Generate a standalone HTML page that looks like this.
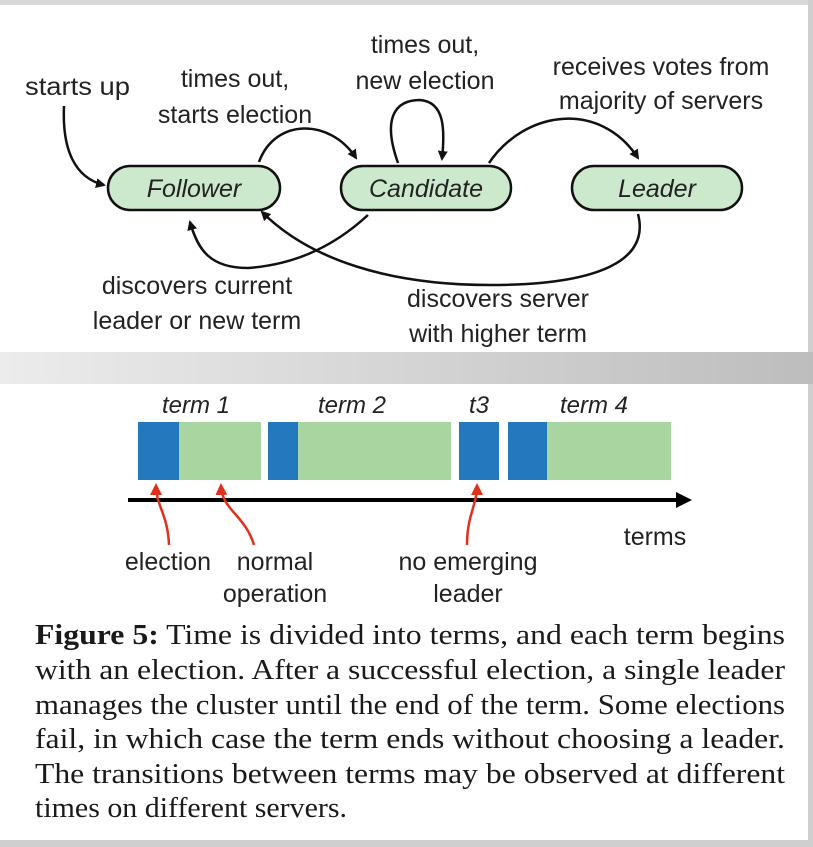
<!DOCTYPE html>
<html><head><meta charset="utf-8"><style>
html,body{margin:0;padding:0;background:#fff;}
svg{display:block;}
</style></head><body>
<svg width="813" height="847" viewBox="0 0 813 847" xmlns="http://www.w3.org/2000/svg">
<defs>
<linearGradient id="band" x1="0" x2="1" y1="0" y2="0">
<stop offset="0" stop-color="#ececec"/><stop offset="1" stop-color="#bdbdbd"/>
</linearGradient>
<marker id="ah" markerWidth="10" markerHeight="10" refX="8" refY="5" orient="auto" markerUnits="userSpaceOnUse">
<path d="M0,0 L10,5 L0,10 z" fill="#111"/></marker>
<marker id="rh" markerWidth="12" markerHeight="12" refX="9" refY="6" orient="auto" markerUnits="userSpaceOnUse">
<path d="M0,0 L12,6 L0,12 z" fill="#e0301e"/></marker>
<marker id="bh" markerWidth="16" markerHeight="16" refX="12" refY="8" orient="auto" markerUnits="userSpaceOnUse">
<path d="M0,0 L16,8 L0,16 z" fill="#000"/></marker>
</defs>
<rect x="0" y="0" width="813" height="847" fill="#fff"/>
<rect x="0" y="0" width="813" height="5" fill="#d8d8d8"/>
<rect x="808" y="0" width="5" height="847" fill="#cfcfcf"/>
<rect x="0" y="352" width="813" height="32" fill="url(#band)"/>
<rect x="0" y="840" width="813" height="7" fill="#cfcfcf"/>

<g font-family="Liberation Sans, sans-serif" font-size="25" fill="#222">
<text x="25" y="95" textLength="105" lengthAdjust="spacingAndGlyphs">starts up</text>
<text x="235" y="87" text-anchor="middle">times out,</text>
<text x="235" y="123" text-anchor="middle">starts election</text>
<text x="425" y="53" text-anchor="middle">times out,</text>
<text x="425" y="89" text-anchor="middle">new election</text>
<text x="661" y="75" text-anchor="middle">receives votes from</text>
<text x="661" y="109" text-anchor="middle">majority of servers</text>
<text x="197" y="294" text-anchor="middle">discovers current</text>
<text x="197" y="329" text-anchor="middle">leader or new term</text>
<text x="498" y="307" text-anchor="middle">discovers server</text>
<text x="498" y="342" text-anchor="middle">with higher term</text>
</g>

<g fill="#cde9cd" stroke="#111" stroke-width="2.5">
<rect x="108" y="166" width="172" height="44" rx="22"/>
<rect x="341" y="166" width="170" height="44" rx="22"/>
<rect x="572" y="166" width="170" height="44" rx="22"/>
</g>
<g font-family="Liberation Sans, sans-serif" font-size="25" font-style="italic" fill="#222" text-anchor="middle">
<text x="194" y="197">Follower</text>
<text x="426" y="197">Candidate</text>
<text x="657" y="197">Leader</text>
</g>

<g fill="none" stroke="#111" stroke-width="2.5" marker-end="url(#ah)">
<path d="M64,106 C62,150 75,178 104,185"/>
<path d="M259,162 C275,118 330,118 356,158"/>
<path d="M398,163 C382,118 395,100 420,100 C445,102 445,130 442,159"/>
<path d="M489,163 C525,110 600,100 638,158"/>
<path d="M368,215 C330,250 290,265 248,268 C210,268 198,250 190,222"/>
<path d="M638,214 C650,260 600,285 490,285 C390,285 310,260 262,212"/>
</g>

<g>
<rect x="138" y="422" width="41" height="58" fill="#2479be"/>
<rect x="179" y="422" width="82" height="58" fill="#a8d5a0"/>
<rect x="268" y="422" width="30" height="58" fill="#2479be"/>
<rect x="298" y="422" width="153" height="58" fill="#a8d5a0"/>
<rect x="459" y="422" width="40" height="58" fill="#2479be"/>
<rect x="508" y="422" width="39" height="58" fill="#2479be"/>
<rect x="547" y="422" width="124" height="58" fill="#a8d5a0"/>
</g>
<g font-family="Liberation Sans, sans-serif" font-size="24" font-style="italic" fill="#222" text-anchor="middle">
<text x="196" y="413">term 1</text>
<text x="352" y="413">term 2</text>
<text x="479" y="413">t3</text>
<text x="594" y="413">term 4</text>
</g>
<line x1="128" y1="500" x2="688" y2="500" stroke="#000" stroke-width="4" marker-end="url(#bh)"/>
<g fill="none" stroke="#e0301e" stroke-width="2.5" marker-end="url(#rh)">
<path d="M169,545 C168,515 156,505 156,486"/>
<path d="M254,545 C245,515 222,510 221,486"/>
<path d="M467,545 C467,515 477,505 477,486"/>
</g>
<g font-family="Liberation Sans, sans-serif" font-size="25" fill="#222" text-anchor="middle">
<text x="655" y="545">terms</text>
<text x="168" y="570">election</text>
<text x="275" y="570">normal</text>
<text x="275" y="602">operation</text>
<text x="468" y="570">no emerging</text>
<text x="468" y="602">leader</text>
</g>

<g font-family="Liberation Serif, serif" font-size="28" fill="#1a1a1a">
<text x="35" y="644" textLength="750" lengthAdjust="spacingAndGlyphs"><tspan font-weight="bold">Figure 5:</tspan> Time is divided into terms, and each term begins</text>
<text x="35" y="679" textLength="750" lengthAdjust="spacingAndGlyphs">with an election. After a successful election, a single leader</text>
<text x="35" y="714" textLength="750" lengthAdjust="spacingAndGlyphs">manages the cluster until the end of the term. Some elections</text>
<text x="35" y="748" textLength="750" lengthAdjust="spacingAndGlyphs">fail, in which case the term ends without choosing a leader.</text>
<text x="35" y="783" textLength="750" lengthAdjust="spacingAndGlyphs">The transitions between terms may be observed at different</text>
<text x="35" y="817" textLength="312" lengthAdjust="spacingAndGlyphs">times on different servers.</text>
</g>
</svg>
</body></html>
